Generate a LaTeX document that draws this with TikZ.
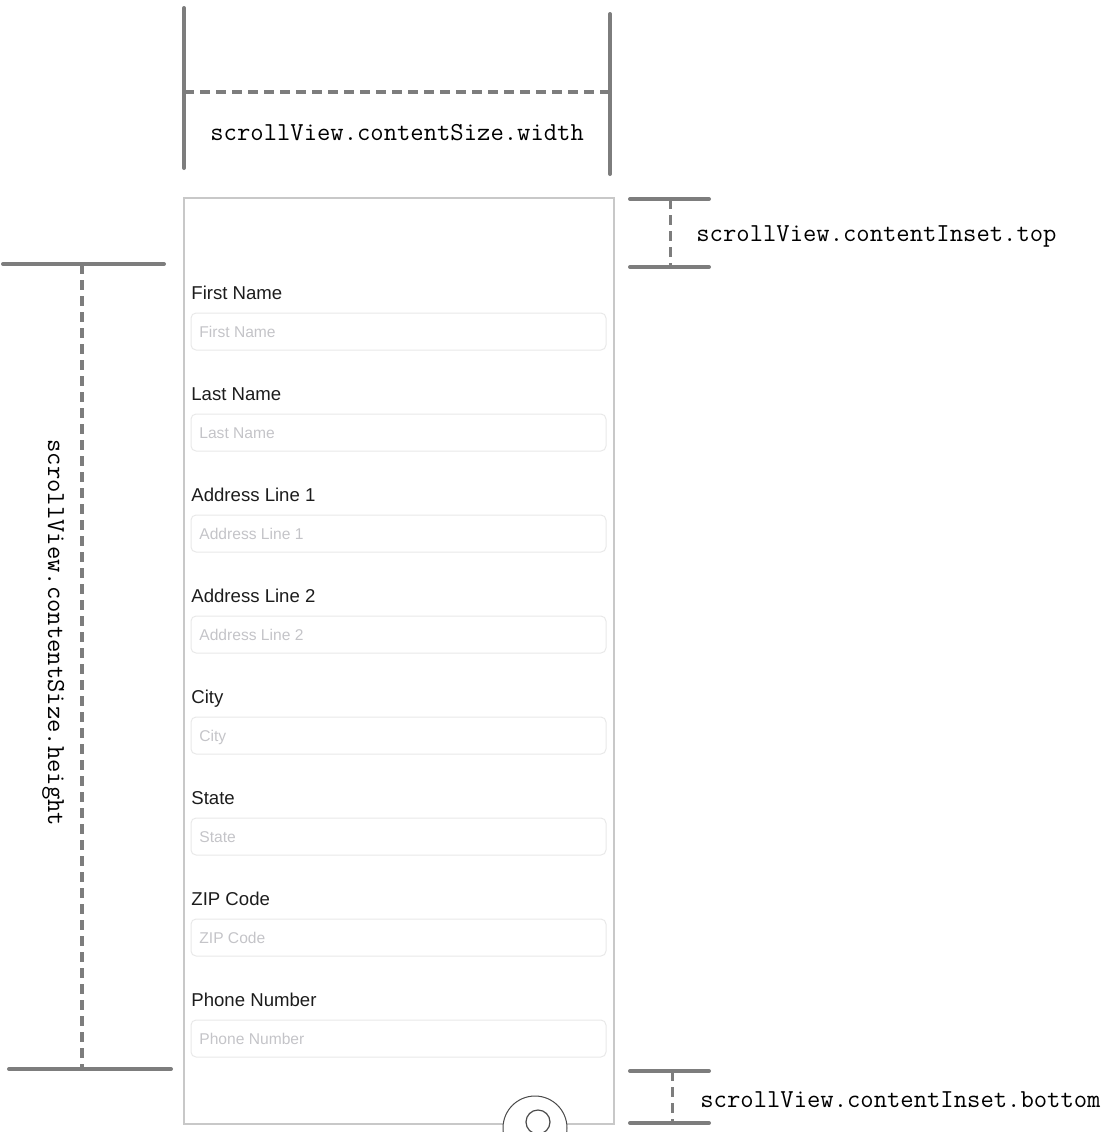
\documentclass[tikz,border=0pt]{standalone}
\usepackage{fontspec}
\newfontfamily\uifont{Liberation Sans}
\definecolor{dimln}{HTML}{7D7D7D}
\definecolor{phonebd}{HTML}{C8C8C8}
\definecolor{fieldbd}{HTML}{E8E8E8}
\definecolor{phtext}{HTML}{C4C4C8}
\definecolor{labeltext}{HTML}{1C1C1C}
\definecolor{iconln}{HTML}{4A4A4A}
\begin{document}
\begin{tikzpicture}[x=0.5pt,y=-0.5pt,
  dimline/.style={draw=dimln, line width=2pt, line cap=round},
  dimdash/.style={draw=dimln, line width=1.7pt, dash pattern=on 5pt off 3pt},
  codelabel/.style={font=\ttfamily\fontsize{12.95pt}{14pt}\selectfont, text=black, inner sep=0pt, anchor=base west},
  fieldlabel/.style={font=\uifont\fontsize{9.3pt}{11pt}\selectfont, text=labeltext, inner sep=0pt, anchor=base west},
  placeholder/.style={font=\uifont\fontsize{7.8pt}{9pt}\selectfont, text=phtext, inner sep=0pt, anchor=base west},
  field/.style={draw=fieldbd, line width=0.5pt, rounded corners=2.5pt},
  phone/.style={draw=phonebd, line width=1pt},
  icon/.style={draw=iconln, line width=0.5pt}
]
\useasboundingbox (0,0) rectangle (1110,1132);

% ---- content size width ----
\coordinate (wla) at (184,8);
\coordinate (wlb) at (184,168);
\coordinate (wra) at (610,14);
\coordinate (wrb) at (610,174);
\coordinate (wda) at (184,92);
\coordinate (wdb) at (608,92);
\draw[dimline] (wla) -- (wlb);
\draw[dimline] (wra) -- (wrb);
\draw[dimdash] (wda) -- (wdb);
\node[codelabel] (wlabel) at (210,140) {scrollView.contentSize.width};

% ---- phone ----
\coordinate (pa) at (184,198);
\coordinate (pb) at (614,1124);
\draw[phone] (pa) rectangle (pb);

% ---- content inset top ----
\coordinate (tta) at (630,199);
\coordinate (ttb) at (709,199);
\coordinate (tba) at (630,267);
\coordinate (tbb) at (709,267);
\coordinate (tda) at (670,199);
\coordinate (tdb) at (670,267);
\draw[dimline] (tta) -- (ttb);
\draw[dimline] (tba) -- (tbb);
\draw[dimdash, line width=1.5pt] (tda) -- (tdb);
\node[codelabel] (tlabel) at (696,241) {scrollView.contentInset.top};

% ---- content inset bottom ----
\coordinate (bta) at (630,1071);
\coordinate (btb) at (709,1071);
\coordinate (bba) at (630,1123);
\coordinate (bbb) at (709,1123);
\coordinate (bda) at (672,1071);
\coordinate (bdb) at (672,1123);
\draw[dimline] (bta) -- (btb);
\draw[dimline] (bba) -- (bbb);
\draw[dimdash, line width=1.5pt] (bda) -- (bdb);
\node[codelabel] (blabel) at (700,1107) {scrollView.contentInset.bottom};

% ---- content size height ----
\coordinate (hta) at (3,264);
\coordinate (htb) at (164,264);
\coordinate (hba) at (9,1069);
\coordinate (hbb) at (171,1069);
\coordinate (hda) at (82,264);
\coordinate (hdb) at (82,1069);
\draw[dimline] (hta) -- (htb);
\draw[dimline] (hba) -- (hbb);
\draw[dimdash] (hda) -- (hdb);
\node[codelabel, rotate=-90] (hlabel) at (48,439) {scrollView.contentSize.height};

% ---- form ----
\foreach \i/\t in {0/First Name,1/Last Name,2/Address Line 1,3/Address Line 2,4/City,5/State,6/ZIP Code,7/Phone Number}{
  \node[fieldlabel] (lab\i) at (191,{299+101*\i}) {\t};
  \draw[field] (191,{313+101*\i}) rectangle (606,{350+101*\i});
  \node[placeholder] (ph\i) at (199,{337.5+101*\i}) {\t};
}

% ---- home button ----
\begin{scope}
  \clip (0,0) rectangle (1110,1132);
  \draw[icon, fill=white] (535,1128) circle (32);
  \draw[icon, line width=0.6pt] (538,1122) circle (12);
\end{scope}
\end{tikzpicture}
\end{document}
